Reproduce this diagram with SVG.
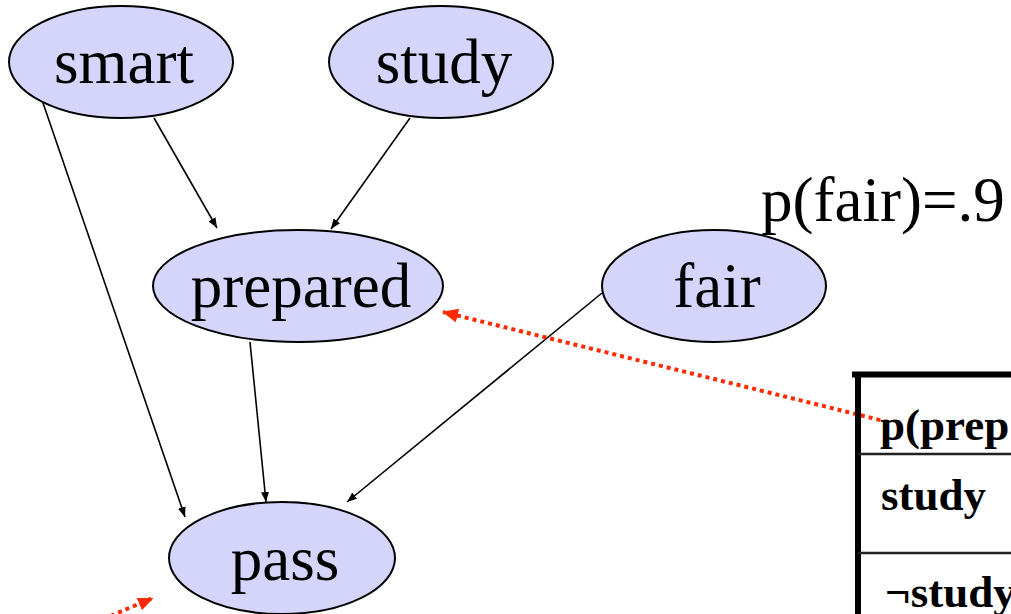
<svg xmlns="http://www.w3.org/2000/svg" width="1011" height="614" viewBox="0 0 1011 614">
  <style>
    .node ellipse { fill: #d5d5fb; stroke: #000; stroke-width: 2; }
    .node text { font-family: "Liberation Serif", "Times New Roman", serif; font-size: 63px; fill: #000; text-anchor: middle; }
    .edge { stroke: #000; stroke-width: 1.6; fill: none; marker-end: url(#arrow); }
    .ref { stroke: #ff2a00; stroke-width: 4; stroke-dasharray: 4 4; fill: none; marker-end: url(#redArrow); }
    .label { font-family: "Liberation Serif", "Times New Roman", serif; font-size: 63px; fill: #000; }
    .cell { font-family: "Liberation Serif", "Times New Roman", serif; font-size: 45px; font-weight: bold; fill: #000; }
  </style>
  <defs>
    <marker id="arrow" viewBox="0 0 10 8" refX="10" refY="4" markerWidth="10" markerHeight="8" markerUnits="userSpaceOnUse" orient="auto">
      <path d="M0,0 L10,4 L0,8 Z" fill="#000"/>
    </marker>
    <marker id="redArrow" viewBox="0 0 16 14" refX="15" refY="7" markerWidth="16" markerHeight="14" markerUnits="userSpaceOnUse" orient="auto">
      <path d="M0,0 L16,7 L0,14 Z" fill="#ff2a00"/>
    </marker>
  </defs>
  <rect width="1011" height="614" fill="#fff"/>

  <!-- connectors -->
  <g id="connectors">
    <line class="edge" x1="154" y1="118" x2="217" y2="228"/>
    <line class="edge" x1="410" y1="118" x2="331" y2="229"/>
    <line class="edge" x1="42" y1="100" x2="185" y2="517"/>
    <line class="edge" x1="250" y1="342" x2="266" y2="502"/>
    <line class="edge" x1="602" y1="293" x2="347" y2="502"/>
    <line class="ref" x1="888" y1="422" x2="443" y2="312"/>
    <line class="ref" x1="96" y1="622" x2="153" y2="598"/>
  </g>

  <!-- nodes -->
  <g id="smart" class="node">
    <ellipse cx="121" cy="62" rx="112" ry="56"/>
    <text x="124" y="83">smart</text>
  </g>
  <g id="study" class="node">
    <ellipse cx="441" cy="62" rx="112" ry="56"/>
    <text x="444" y="83">study</text>
  </g>
  <g id="prepared" class="node">
    <ellipse cx="298" cy="286" rx="145" ry="56"/>
    <text x="301" y="307">prepared</text>
  </g>
  <g id="fair" class="node">
    <ellipse cx="714" cy="286" rx="112" ry="56"/>
    <text x="717" y="307">fair</text>
  </g>
  <g id="pass" class="node">
    <ellipse cx="282" cy="558" rx="113" ry="56"/>
    <text x="285" y="580">pass</text>
  </g>

  <!-- prior for fair -->
  <text class="label" x="761" y="221">p(fair)=.9</text>

  <!-- conditional probability table for prepared -->
  <g id="cpt">
    <line x1="852" y1="374.5" x2="1011" y2="374.5" stroke="#000" stroke-width="6"/>
    <line x1="858" y1="372" x2="858" y2="614" stroke="#000" stroke-width="6"/>
    <line x1="858" y1="454" x2="1011" y2="454" stroke="#222" stroke-width="2.5"/>
    <line x1="858" y1="553" x2="1011" y2="553" stroke="#222" stroke-width="2.5"/>
    <text class="cell" x="880" y="440">p(prep</text>
    <text class="cell" x="881" y="510">study</text>
    <text class="cell" x="885" y="607">¬study</text>
  </g>
</svg>
